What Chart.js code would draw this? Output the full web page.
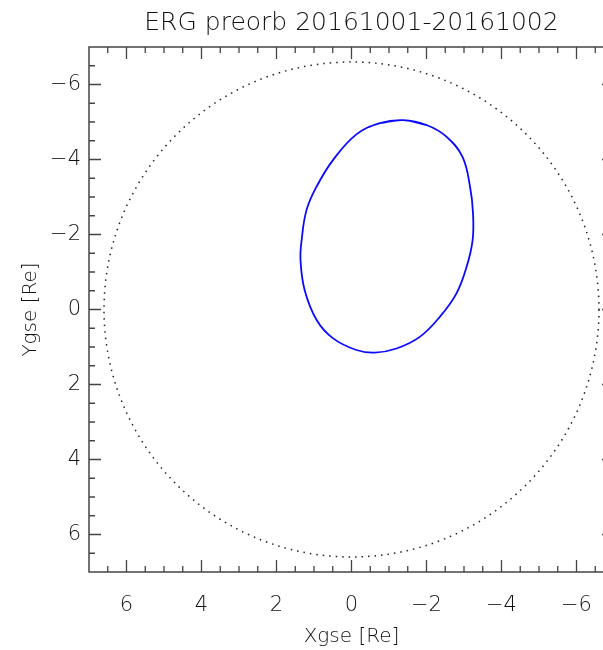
<!DOCTYPE html>
<html>
<head>
<meta charset="utf-8">
<script src="https://cdn.jsdelivr.net/npm/chart.js@4/dist/chart.umd.min.js"></script>
<style>
  html, body { margin: 0; padding: 0; background: #ffffff; }
  #wrap { width: 603px; height: 650px; overflow: hidden; position: relative; background: #fff; }
  #c { display: block; }
</style>
</head>
<body>
<div id="wrap"><canvas id="c" width="640" height="650"></canvas></div>
<script>
// ---- data ----
const titleText = 'ERG preorb 20161001-20161002';
const xAxisTitle = 'Xgse [Re]';
const yAxisTitle = 'Ygse [Re]';
const axisMin = -7;
const axisMax = 7;
const tickValues = [-6, -4, -2, 0, 2, 4, 6];
const minorStep = 0.5;
const geoRadius = 6.6;   // dotted reference circle radius [Re]

// orbit track (Xgse, Ygse) in Re, closed loop
const orbitX = [-2.00, -1.38, -0.76, -0.13, 0.49, 0.93, 1.20, 1.33, 1.36, 1.25, 0.93, 0.49, -0.13, -0.62, -1.20, -1.82, -2.36, -2.80, -3.07, -3.23, -3.24, -3.16, -2.96, -2.53, -2.00, -1.38, -0.76];
const orbitY = [-4.92, -5.05, -4.97, -4.67, -3.99, -3.28, -2.65, -1.85, -1.32, -0.52, 0.28, 0.77, 1.08, 1.15, 1.04, 0.73, 0.19, -0.43, -1.14, -1.85, -2.57, -3.28, -4.07, -4.61, -4.92, -5.05, -4.97];

const orbitPoints = orbitX.map((v, i) => ({ x: v, y: orbitY[i] }));
const fmt = v => (v < 0 ? '\u2212' + Math.abs(v) : String(v));
const textFont = 'DejaVu Sans';
const textColor = '#111';

const idlFrame = {
  id: 'idlFrame',
  beforeDatasetsDraw(chart) {
    const { ctx, scales: { x, y } } = chart;
    const cx = x.getPixelForValue(0), cy = y.getPixelForValue(0);
    const rx = Math.abs(x.getPixelForValue(geoRadius) - cx);
    const ry = Math.abs(y.getPixelForValue(geoRadius) - cy);
    ctx.save();
    ctx.strokeStyle = '#222';
    ctx.lineWidth = 1.5;
    ctx.setLineDash([1.5, 5.0]);
    ctx.beginPath();
    ctx.ellipse(cx, cy, rx, ry, 0, 0, Math.PI * 2);
    ctx.stroke();
    ctx.restore();
  },
  afterDraw(chart) {
    const { ctx, chartArea: a, scales: { x, y } } = chart;
    ctx.save();
    ctx.strokeStyle = '#444';
    ctx.lineWidth = 1.5;
    ctx.strokeRect(a.left, a.top, a.right - a.left, a.bottom - a.top);
    ctx.lineWidth = 1.3;
    ctx.beginPath();
    for (let v = axisMin + minorStep; v < axisMax - 1e-9; v += minorStep) {
      const major = tickValues.includes(Math.round(v * 100) / 100);
      const len = major ? 12 : 6;
      const px = x.getPixelForValue(v);
      const py = y.getPixelForValue(v);
      ctx.moveTo(px, a.bottom); ctx.lineTo(px, a.bottom - len);
      ctx.moveTo(px, a.top); ctx.lineTo(px, a.top + len);
      ctx.moveTo(a.left, py); ctx.lineTo(a.left + len, py);
      ctx.moveTo(a.right, py); ctx.lineTo(a.right - len, py);
    }
    ctx.stroke();
    ctx.restore();
  }
};

new Chart(document.getElementById('c'), {
  type: 'scatter',
  data: {
    datasets: [{
      data: orbitPoints,
      showLine: true,
      borderColor: '#0a0aff',
      borderWidth: 1.8,
      pointRadius: 0,
      tension: 0.4,
      fill: false
    }]
  },
  options: {
    responsive: false,
    animation: false,
    devicePixelRatio: 1,
    layout: { padding: { left: 0, right: 26, top: 0, bottom: 0 } },
    plugins: {
      legend: { display: false },
      tooltip: { enabled: false },
      title: {
        display: true,
        text: titleText,
        fullSize: false,
        color: textColor,
        font: { family: textFont, size: 25, weight: 300, lineHeight: 1 },
        padding: { top: 11, bottom: 11 }
      }
    },
    scales: {
      x: {
        type: 'linear',
        min: axisMin, max: axisMax,
        reverse: true,
        grid: { display: false, drawTicks: false },
        border: { display: false },
        afterBuildTicks: s => { s.ticks = tickValues.map(v => ({ value: v })); },
        afterFit: s => { s.height = 78; },
        ticks: {
          color: textColor,
          padding: 21,
          maxRotation: 0,
          font: { family: textFont, size: 21, weight: 300 },
          callback: v => fmt(v)
        },
        title: {
          display: true,
          text: xAxisTitle,
          color: textColor,
          font: { family: textFont, size: 20, weight: 300, lineHeight: 1.2 },
          padding: { top: 0, bottom: 1 }
        }
      },
      y: {
        type: 'linear',
        min: axisMin, max: axisMax,
        reverse: true,
        grid: { display: false, drawTicks: false },
        border: { display: false },
        afterBuildTicks: s => { s.ticks = tickValues.map(v => ({ value: v })); },
        afterFit: s => { s.width = 89; },
        ticks: {
          color: textColor,
          padding: 8,
          font: { family: textFont, size: 21, weight: 300 },
          callback: v => fmt(v)
        },
        title: {
          display: true,
          text: yAxisTitle,
          color: textColor,
          font: { family: textFont, size: 20, weight: 300, lineHeight: 1.2 },
          padding: { top: 19, bottom: 0 }
        }
      }
    }
  },
  plugins: [idlFrame]
});
</script>
</body>
</html>
